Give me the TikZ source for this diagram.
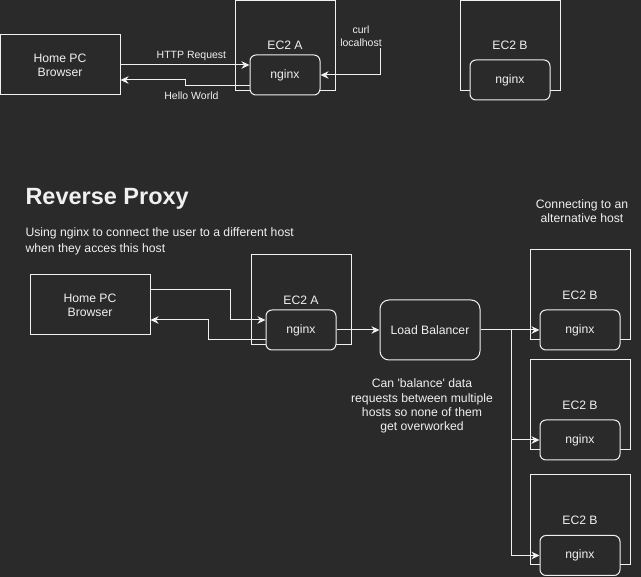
\documentclass[tikz,border=0pt]{standalone}
\usepackage{fontspec}
\setmainfont{Liberation Sans}
\usepackage{tikz}
\usetikzlibrary{arrows.meta}
\definecolor{bgc}{HTML}{2A2A2A}
\definecolor{fgc}{HTML}{F0F0F0}
\tikzset{%
  txt/.style={text=fgc,font=\fontsize{12.2}{14}\selectfont,align=center,inner sep=0},
  etxt/.style={txt,font=\fontsize{10.5}{13}\selectfont},
  pbox/.style={txt,draw=fgc,shape=rectangle,minimum width=120pt,minimum height=60pt},
  hbox/.style={txt,draw=fgc,shape=rectangle,minimum width=100pt,minimum height=90pt},
  nbox/.style={txt,draw=fgc,fill=bgc,rounded corners=6pt,minimum width=80pt,minimum height=40pt},
  link/.style={draw=fgc,line width=1pt,-{Stealth[length=8pt,width=7.5pt,inset=2.5pt]}}
}
\begin{document}
\begin{tikzpicture}[x=1pt,y=-1pt,line width=1pt]
    \fill[bgc] (0,0) rectangle (641,577);
    \useasboundingbox (0,0) rectangle (641,577);
    % direct access
    \path
      (60,65) node (pc)[pbox]{Home PC\\Browser}
      (285,45.5) node (ea)[hbox]{EC2 A}
      (285,75) node (nga)[nbox,minimum width=70pt]{nginx}
      (510,45.5) node (eb)[hbox]{EC2 B}
      (510,80) node (ngb)[nbox]{nginx};
    \coordinate (curl) at (380,48);
    \node (curltxt)[etxt] at (361,36) {curl\\localhost};
    \draw[link] (pc.east) -- node[etxt,pos=0.55,above=3.5pt]{HTTP Request} (pc.east -| nga.west);
    \draw[link] ([yshift=-11pt]nga.west) -- node[etxt,pos=0.9,below=5.5pt]{Hello World} (185,86) -- (185,80) -- ([yshift=-15pt]pc.east);
    \draw[link] (curl) |- (nga.east);
    % reverse proxy
    \node (title)[anchor=west,text=fgc,font=\bfseries\fontsize{23.5}{28}\selectfont,inner sep=0] at (25,198.5) {Reverse Proxy};
    \node (note)[txt,anchor=west,align=left,font=\fontsize{12.2}{15.5}\selectfont] at (25,241.5) {Using nginx to connect the user to a different host\\when they acces this host};
    \path
      (90,305) node (pc2)[pbox]{Home PC\\Browser}
      (301,300) node (ea2)[hbox]{EC2 A}
      (301,330) node (nga2)[nbox,minimum width=70pt]{nginx}
      (430,330) node (lb)[nbox,minimum width=100pt,minimum height=60pt,rounded corners=9pt]{Load Balancer}
      (580,295) node (eb1)[hbox]{EC2 B}
      (580,330) node (ngb1)[nbox]{nginx}
      (580,405) node (eb2)[hbox]{EC2 B}
      (580,440) node (ngb2)[nbox]{nginx}
      (580,520) node (eb3)[hbox]{EC2 B}
      (580,555.5) node (ngb3)[nbox]{nginx};
    \draw[link] ([yshift=15pt]pc2.east) -| (230,320) -- ([yshift=10pt]nga2.west);
    \draw[link] ([yshift=-10pt]nga2.west) -| (208,320) -- ([yshift=-15pt]pc2.east);
    \draw[link] (nga2.east) -- (lb.west);
    \coordinate (split) at (511,330);
    \draw[link] (lb.east) -- (ngb1.west);
    \draw[link] (split) |- (ngb2.west);
    \draw[link] (split) |- (ngb3.west);
    \node (lbnote)[txt,font=\fontsize{12.2}{14.3}\selectfont] at (422,406) {Can \textquotesingle balance\textquotesingle{} data\\requests between multiple\\hosts so none of them\\get overworked};
    \node (altnote)[txt,font=\fontsize{12.2}{13.5}\selectfont] at (582,211) {Connecting to an\\alternative host};
  \end{tikzpicture}
\end{document}
